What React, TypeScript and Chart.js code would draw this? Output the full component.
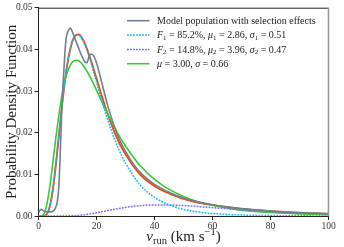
import React, { useEffect, useRef } from "react";
import { Chart, registerables } from "chart.js";
Chart.register(...registerables);

// ---- data ----
const vGrid = [0, 1, 2, 3, 4, 5, 6, 7, 8, 9, 10, 11, 12, 13, 14, 15, 16, 18, 20, 22, 25, 28, 30, 35, 40, 45, 50, 55, 60, 70, 80, 90, 100];

const comp1 = [0, 0, 0.00004, 0.00057, 0.00256, 0.0066, 0.0124, 0.0191, 0.0258, 0.0318, 0.0367, 0.0402, 0.0424, 0.0434, 0.0434, 0.0425, 0.0411, 0.037, 0.0322, 0.0273, 0.0208, 0.0155, 0.0127, 0.0075, 0.0045, 0.0027, 0.0016, 0.00097, 0.0006, 0.00023, 0.0001, 0.00004, 0.00002];

const comp2 = [0, 0, 0, 0, 0, 0, 0, 0.000001, 0.000003, 0.00001, 0.000025, 0.00005, 0.00008, 0.00012, 0.00017, 0.00024, 0.0003, 0.0005, 0.00077, 0.00105, 0.00145, 0.00181, 0.00207, 0.00248, 0.00266, 0.00265, 0.0025, 0.00227, 0.00201, 0.00149, 0.00105, 0.00072, 0.00049];

const totalFit = [0, 0, 0.00004, 0.00057, 0.00256, 0.0066, 0.0124, 0.0191, 0.0258, 0.0318, 0.0367, 0.0402, 0.0425, 0.0435, 0.0436, 0.0427, 0.0414, 0.0375, 0.033, 0.0284, 0.0223, 0.0173, 0.0148, 0.01, 0.0072, 0.0054, 0.0041, 0.0032, 0.0026, 0.0017, 0.00115, 0.00076, 0.00051];

const singleFit = [0, 0.00002, 0.00067, 0.0032, 0.0076, 0.0131, 0.0189, 0.0241, 0.0286, 0.0321, 0.0346, 0.0363, 0.0372, 0.0374, 0.0372, 0.0365, 0.0356, 0.0331, 0.0302, 0.0272, 0.0229, 0.019, 0.0168, 0.0121, 0.0088, 0.0064, 0.0047, 0.0034, 0.0026, 0.0014, 0.00084, 0.00051, 0.00031];

const vModel = [0, 0.5, 1, 1.5, 2, 3, 4, 5, 5.5, 6, 6.5, 7, 7.5, 8, 8.5, 9, 9.5, 10, 10.5, 11, 11.5, 12, 13, 14, 15, 16, 16.7, 17.3, 18, 19, 20, 21, 22, 24, 26, 28, 30, 33, 36, 40, 45, 50, 55, 60, 70, 80, 90, 100];
const modelPop = [0.0008, 0.0014, 0.0016, 0.0014, 0.0011, 0.001, 0.001, 0.0012, 0.0015, 0.0022, 0.0035, 0.007, 0.015, 0.025, 0.032, 0.038, 0.0425, 0.044, 0.0448, 0.0451, 0.0445, 0.0436, 0.0418, 0.04, 0.0383, 0.037, 0.0368, 0.038, 0.0389, 0.0385, 0.0368, 0.0343, 0.0315, 0.0262, 0.0218, 0.0182, 0.0155, 0.0122, 0.0098, 0.0076, 0.0057, 0.0043, 0.0034, 0.0027, 0.0018, 0.0012, 0.0008, 0.0006];

const yTicks = [0, 0.01, 0.02, 0.03, 0.04, 0.05];
const xTicks = [0, 20, 40, 60, 80, 100];

const labels = [
  "Model population with selection effects",
  "F₁ = 85.2%, μ₁ = 2.86, σ₁ = 0.51",
  "F₂ = 14.8%, μ₂ = 3.96, σ₂ = 0.47",
  "μ = 3.00, σ = 0.66",
];
const yTitle = "Probability Density Function";

const SERIF = '"Liberation Serif", "DejaVu Serif", serif';

type Seg = { t: string; it?: boolean; sub?: boolean; sup?: boolean };

function parseLabel(s: string): Seg[] {
  const out: Seg[] = [];
  for (const ch of s) {
    let seg: Seg;
    if (ch === "₁") seg = { t: "1", sub: true };
    else if (ch === "₂") seg = { t: "2", sub: true };
    else if ("Fμσ".includes(ch)) seg = { t: ch, it: true };
    else seg = { t: ch };
    const last = out[out.length - 1];
    if (last && !!last.it === !!seg.it && !!last.sub === !!seg.sub && !!last.sup === !!seg.sup) last.t += seg.t;
    else out.push(seg);
  }
  return out;
}

function segFont(s: Seg, size: number) {
  const sz = s.sub || s.sup ? size * 0.7 : size;
  return `${s.it ? "italic " : ""}${sz}px ${SERIF}`;
}

function drawSegs(ctx: CanvasRenderingContext2D, segs: Seg[], x: number, y: number, size: number, align: "left" | "center") {
  let w = 0;
  for (const s of segs) {
    ctx.font = segFont(s, size);
    w += ctx.measureText(s.t).width;
  }
  let cx = align === "center" ? x - w / 2 : x;
  for (const s of segs) {
    ctx.font = segFont(s, size);
    const dy = s.sub ? size * 0.22 : s.sup ? -size * 0.4 : 0;
    ctx.fillText(s.t, cx, y + dy);
    cx += ctx.measureText(s.t).width;
  }
}

const decor = {
  id: "decor",
  afterDatasetsDraw(chart: any) {
    const { ctx, chartArea: a } = chart;
    ctx.save();
    // frame
    ctx.strokeStyle = "#222";
    ctx.lineWidth = 1;
    ctx.beginPath();
    ctx.moveTo(a.left, a.top + 0.5);
    ctx.lineTo(a.right, a.top + 0.5);
    ctx.stroke();
    ctx.strokeStyle = "#9a9a9a";
    ctx.lineWidth = 1.6;
    ctx.beginPath();
    ctx.moveTo(a.right, a.top);
    ctx.lineTo(a.right, a.bottom);
    ctx.stroke();

    // legend
    const lx0 = a.left + 88.5;
    const lx1 = a.left + 111;
    const tx = a.left + 118.5;
    const rows = [13, 27.3, 41.7, 56];
    const items = chart.data.datasets.filter((d: any) => d.label);
    items.forEach((d: any, i: number) => {
      const y = a.top + rows[i];
      ctx.strokeStyle = d.borderColor;
      ctx.lineWidth = d.borderWidth;
      ctx.setLineDash(d.borderDash || []);
      ctx.beginPath();
      ctx.moveTo(lx0, y);
      ctx.lineTo(lx1, y);
      ctx.stroke();
      ctx.setLineDash([]);
      ctx.fillStyle = "#222";
      ctx.textBaseline = "middle";
      ctx.textAlign = "left";
      drawSegs(ctx, parseLabel(d.label), tx, y + 0.5, 10, "left");
    });

    // x title
    ctx.fillStyle = "#222";
    ctx.textBaseline = "alphabetic";
    ctx.textAlign = "left";
    drawSegs(
      ctx,
      [{ t: "v", it: true }, { t: "run", sub: true }, { t: " (km s" }, { t: "−1", sup: true }, { t: ")" }],
      (a.left + a.right) / 2,
      241,
      15,
      "center"
    );

    // y title
    ctx.translate(12, (a.top + a.bottom) / 2);
    ctx.rotate(-Math.PI / 2);
    ctx.textAlign = "center";
    ctx.textBaseline = "middle";
    ctx.font = `15px ${SERIF}`;
    ctx.fillText(yTitle, 0, 0);
    ctx.restore();
  },
};

function pts(xs: number[], ys: number[]) {
  return xs.map((x, i) => ({ x, y: ys[i] }));
}

export default function App() {
  const ref = useRef<HTMLCanvasElement>(null);
  useEffect(() => {
    document.body.style.margin = "0";
    const canvas = ref.current!;
    const chart = new Chart(canvas, {
      type: "line",
      data: {
        datasets: [
          { label: labels[0], data: pts(vModel, modelPop), borderColor: "#708090", borderWidth: 1.6, tension: 0.3 },
          { label: labels[1], data: pts(vGrid, comp1), borderColor: "#00bfff", borderWidth: 1.5, borderDash: [1.8, 1.2], tension: 0.4 },
          { label: labels[2], data: pts(vGrid, comp2), borderColor: "#7b68ee", borderWidth: 1.5, borderDash: [1.8, 1.2], tension: 0.4 },
          { label: labels[3], data: pts(vGrid, singleFit), borderColor: "#32cd32", borderWidth: 1.6, tension: 0.4 },
          { label: "", data: pts(vGrid, totalFit), borderColor: "#ff4500", borderWidth: 1.9, tension: 0.4 },
        ] as any,
      },
      options: {
        animation: false,
        responsive: false,
        devicePixelRatio: 1,
        layout: { padding: { top: 5, right: 15.5, left: 0, bottom: 0 } },
        elements: { point: { radius: 0 }, line: { fill: false, cubicInterpolationMode: "monotone" } },
        plugins: { legend: { display: false }, tooltip: { enabled: false } },
        scales: {
          x: {
            type: "linear",
            min: 0,
            max: 100,
            afterFit: (s: any) => { s.height = 31; },
            afterBuildTicks: (s: any) => { s.ticks = xTicks.map((v) => ({ value: v })); },
            ticks: { font: { family: SERIF, size: 9.5 }, color: "#333", padding: 1, maxRotation: 0 },
            grid: { drawOnChartArea: false, drawTicks: true, tickLength: 4, color: "#222" },
            border: { color: "#222", width: 1 },
          },
          y: {
            type: "linear",
            min: 0,
            max: 0.05,
            afterFit: (s: any) => { s.width = 38.5; },
            afterBuildTicks: (s: any) => { s.ticks = yTicks.map((v) => ({ value: v })); },
            ticks: { font: { family: SERIF, size: 9.5 }, color: "#333", padding: 2, callback: (v: any) => Number(v).toFixed(2) },
            grid: { drawOnChartArea: false, drawTicks: true, tickLength: 4, color: "#222" },
            border: { color: "#222", width: 1 },
          },
        },
      } as any,
      plugins: [decor],
    });
    return () => chart.destroy();
  }, []);
  return (
    <div style={{ width: 344, height: 247 }}>
      <canvas ref={ref} width={344} height={247} style={{ display: "block" }} />
    </div>
  );
}
